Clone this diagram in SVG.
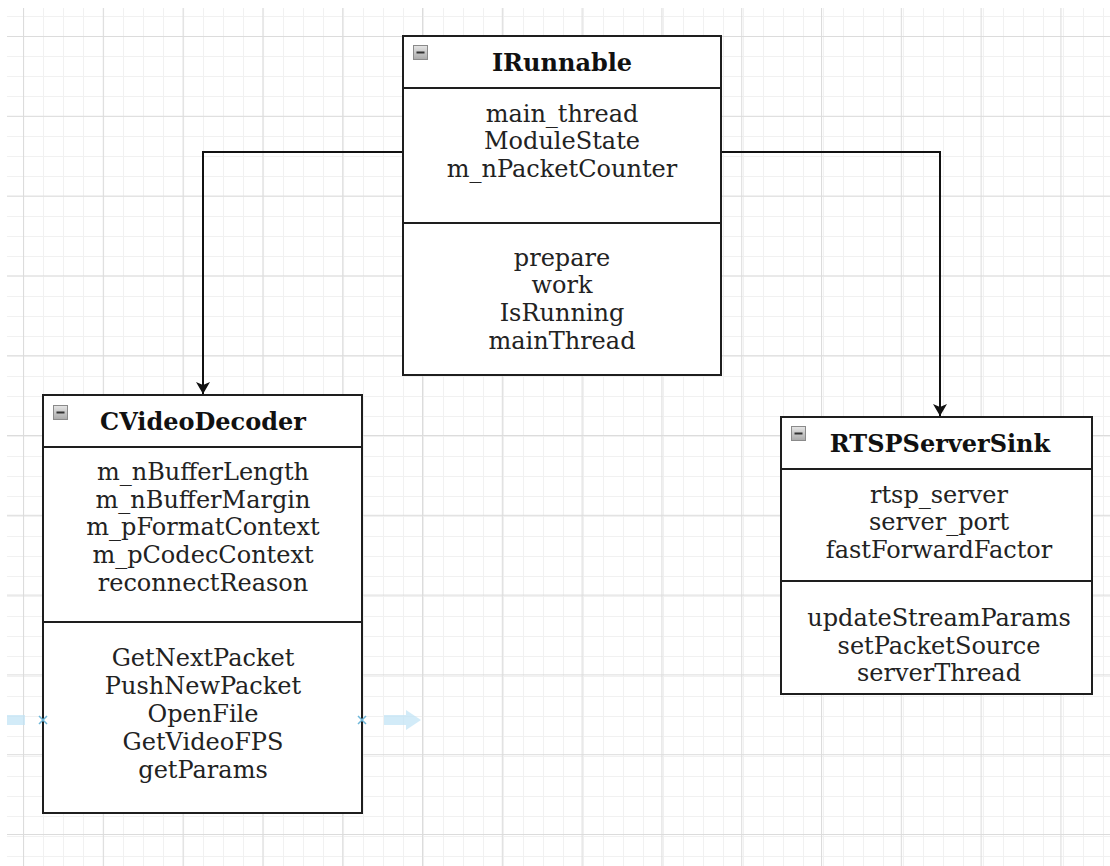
<svg xmlns="http://www.w3.org/2000/svg" width="1110" height="866" viewBox="0 0 1110 866">
  <defs>
    <pattern id="minorGrid" x="3" y="16" width="20" height="20" patternUnits="userSpaceOnUse">
      <path d="M0 0.5H20M0.5 0V20" fill="none" stroke="#f1f1f1" stroke-width="1"/>
    </pattern>
    <pattern id="majorGrid" x="23" y="36" width="79.8" height="79.8" patternUnits="userSpaceOnUse">
      <path d="M0 0.5H79.8M0.5 0V79.8" fill="none" stroke="#dcdcdc" stroke-width="1.2"/>
    </pattern>
    <linearGradient id="iconFill" x1="0" y1="0" x2="0" y2="1">
      <stop offset="0" stop-color="#e6e6e6"/>
      <stop offset="1" stop-color="#a9a9a9"/>
    </linearGradient>
    <marker id="arrow" viewBox="0 0 12 14" refX="12" refY="7" markerWidth="12" markerHeight="14" markerUnits="userSpaceOnUse" orient="auto">
      <path d="M0 0L12 7L0 14L3 7Z" fill="#111"/>
    </marker>
    <g id="collapse">
      <rect x="0.5" y="0.5" width="14" height="14" fill="url(#iconFill)" stroke="#8a8a8a" stroke-width="1"/>
      <rect x="3.5" y="6.5" width="8" height="2" fill="#333"/>
    </g>
  </defs>
  <style>
    .box { fill: #ffffff; stroke: #1e1e1e; stroke-width: 2; }
    .sep { stroke: #1e1e1e; stroke-width: 2; }
    .title { font-family: "DejaVu Serif", "Liberation Serif", serif; font-size: 24px; font-weight: bold; fill: #111; text-anchor: middle; }
    .member { font-family: "DejaVu Serif", "Liberation Serif", serif; font-size: 24px; fill: #222; text-anchor: middle; }
    .edge { fill: none; stroke: #111; stroke-width: 2; }
    .hint { fill: #bfe3f5; opacity: 0.7; }
    .hintx { stroke: #6fb7d9; stroke-width: 1.5; }
  </style>

  <!-- canvas with grid -->
  <rect width="1110" height="866" fill="#ffffff"/>
  <rect x="7" y="8" width="1103" height="858" fill="url(#minorGrid)"/>
  <rect x="7" y="8" width="1103" height="858" fill="url(#majorGrid)"/>

  <!-- inheritance connectors -->
  <g id="connectors">
    <path class="edge" d="M403 152H203V394" marker-end="url(#arrow)"/>
    <path class="edge" d="M721 152H940V416" marker-end="url(#arrow)"/>
  </g>

  <!-- IRunnable -->
  <g id="IRunnable">
    <rect class="box" x="403" y="36" width="318" height="339"/>
    <line class="sep" x1="403" y1="88" x2="721" y2="88"/>
    <line class="sep" x1="403" y1="223" x2="721" y2="223"/>
    <use href="#collapse" x="413" y="45"/>
    <text class="title" x="562" y="71">IRunnable</text>
    <text class="member" x="562" y="122">main_thread</text>
    <text class="member" x="562" y="149">ModuleState</text>
    <text class="member" x="562" y="177">m_nPacketCounter</text>
    <text class="member" x="562" y="266">prepare</text>
    <text class="member" x="562" y="293">work</text>
    <text class="member" x="562" y="321">IsRunning</text>
    <text class="member" x="562" y="349">mainThread</text>
  </g>

  <!-- CVideoDecoder -->
  <g id="CVideoDecoder">
    <rect class="box" x="43" y="395" width="319" height="418"/>
    <line class="sep" x1="43" y1="447" x2="362" y2="447"/>
    <line class="sep" x1="43" y1="622" x2="362" y2="622"/>
    <use href="#collapse" x="53" y="405"/>
    <text class="title" x="203" y="430">CVideoDecoder</text>
    <text class="member" x="203" y="480">m_nBufferLength</text>
    <text class="member" x="203" y="508">m_nBufferMargin</text>
    <text class="member" x="203" y="535">m_pFormatContext</text>
    <text class="member" x="203" y="563">m_pCodecContext</text>
    <text class="member" x="203" y="591">reconnectReason</text>
    <text class="member" x="203" y="666">GetNextPacket</text>
    <text class="member" x="203" y="694">PushNewPacket</text>
    <text class="member" x="203" y="722">OpenFile</text>
    <text class="member" x="203" y="750">GetVideoFPS</text>
    <text class="member" x="203" y="778">getParams</text>
  </g>

  <!-- hover connection hints beside CVideoDecoder -->
  <g id="hints">
    <path class="hint" d="M7 715H25V725H7Z"/>
    <path class="hint" d="M384 715H406V710L421 720L406 730V725H384Z"/>
    <path class="hintx" d="M39 716L47 724M47 716L39 724"/>
    <path class="hintx" d="M358 716L366 724M366 716L358 724"/>
  </g>

  <!-- RTSPServerSink -->
  <g id="RTSPServerSink">
    <rect class="box" x="781" y="417" width="311" height="277"/>
    <line class="sep" x1="781" y1="469" x2="1092" y2="469"/>
    <line class="sep" x1="781" y1="581" x2="1092" y2="581"/>
    <use href="#collapse" x="791" y="426"/>
    <text class="title" x="940" y="452">RTSPServerSink</text>
    <text class="member" x="939" y="503">rtsp_server</text>
    <text class="member" x="939" y="530">server_port</text>
    <text class="member" x="939" y="558">fastForwardFactor</text>
    <text class="member" x="939" y="626">updateStreamParams</text>
    <text class="member" x="939" y="654">setPacketSource</text>
    <text class="member" x="939" y="681">serverThread</text>
  </g>
</svg>
